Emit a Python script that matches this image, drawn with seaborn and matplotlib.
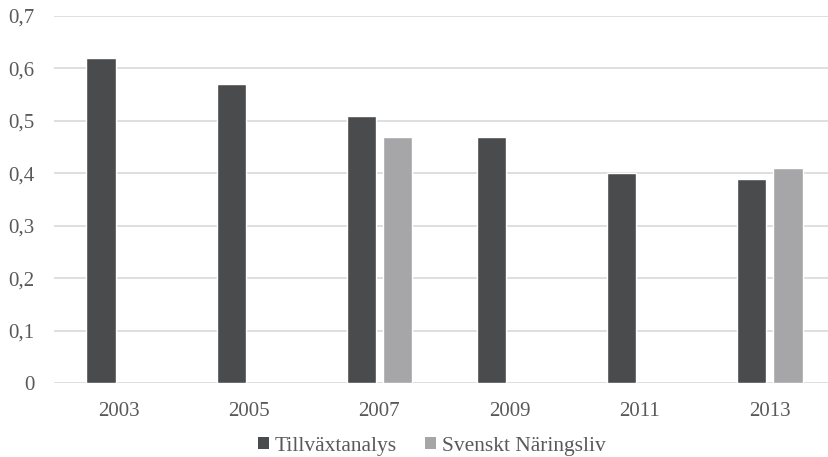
import matplotlib
matplotlib.use("Agg")
import matplotlib.pyplot as plt
from matplotlib.ticker import FuncFormatter, MultipleLocator
from matplotlib.patches import Patch
import seaborn as sns
import pandas as pd

years = ["2003", "2005", "2007", "2009", "2011", "2013"]
tillvaxtanalys = [0.62, 0.57, 0.51, 0.47, 0.40, 0.39]
svenskt_naringsliv = [None, None, 0.47, None, None, 0.41]
series_names = ["Tillväxtanalys", "Svenskt Näringsliv"]
colors = ["#4a4b4d", "#a6a6a8"]

rows = []
for y, a, b in zip(years, tillvaxtanalys, svenskt_naringsliv):
    rows.append({"year": y, "series": series_names[0], "value": a})
    rows.append({"year": y, "series": series_names[1], "value": b})
df = pd.DataFrame(rows)

sns.set_theme(style="white")
serif = ["Liberation Serif", "DejaVu Serif"]
plt.rcParams["font.family"] = serif
plt.rcParams["font.serif"] = serif
text_color = "#595959"

fig = plt.figure(figsize=(8.29, 4.57), dpi=100)
# x axis spans 54..835 px, y axis 16..383 px
ax = fig.add_axes([54 / 829, (457 - 383) / 457, (835 - 54) / 829, (383 - 16) / 457])

sns.barplot(data=df, x="year", y="value", hue="series", order=years,
            hue_order=series_names, palette=colors, width=0.554, gap=0.19,
            saturation=1, ax=ax, legend=False, zorder=3)

ax.set_xlim(-0.5, 5.5)
ax.set_ylim(0, 0.7)
ax.yaxis.set_major_locator(MultipleLocator(0.1))
ax.yaxis.set_major_formatter(FuncFormatter(
    lambda v, _: "0" if abs(v) < 1e-9 else f"{v:.1f}".replace(".", ",")))
ax.grid(axis="y", color="#d9d9d9", linewidth=1.2, zorder=0)
ax.set_axisbelow(True)
for s in ax.spines.values():
    s.set_visible(False)
ax.set_xlabel("")
ax.set_ylabel("")
ax.tick_params(axis="both", length=0, labelsize=15, colors=text_color)
for lab in ax.get_xticklabels() + ax.get_yticklabels():
    lab.set_family(serif)
ax.tick_params(axis="y", pad=14)
ax.tick_params(axis="x", pad=14)

handles = [Patch(facecolor=c, edgecolor="none") for c in colors]
leg = fig.legend(handles, series_names, loc="center", bbox_to_anchor=(0.521, 1 - 446 / 457),
                 ncol=2, frameon=False, fontsize=15.5,
                 handlelength=0.5, handleheight=0.5, handletextpad=0.3,
                 columnspacing=1.3)
for t in leg.get_texts():
    t.set_fontfamily(serif)
    t.set_color(text_color)

fig.savefig("out.png", dpi=100)
